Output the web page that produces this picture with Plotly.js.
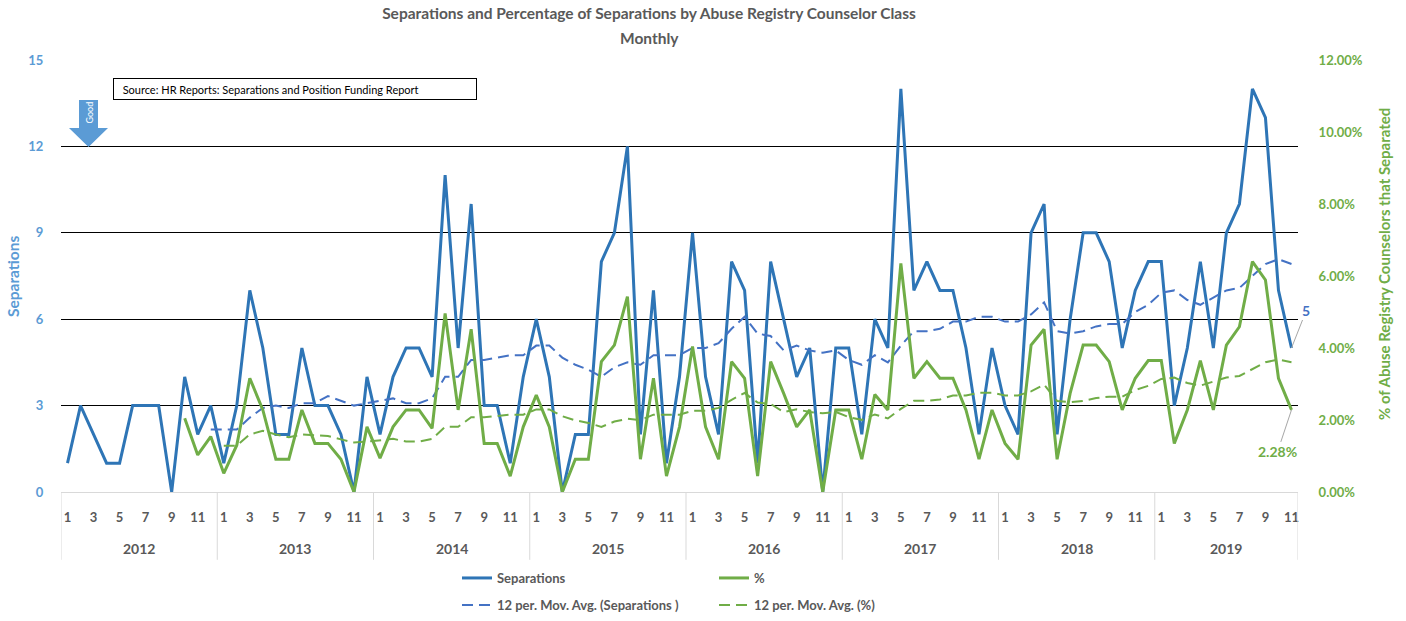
<!DOCTYPE html>
<html><head><meta charset="utf-8">
<script src="https://cdn.plot.ly/plotly-3.0.1.min.js"></script>
<style>html,body{margin:0;padding:0;background:#fff;}#chart{width:1406px;height:621px;}</style>
</head><body><div id="chart"></div>
<script>
// ---- data ----
const yearLabels = ['2012','2013','2014','2015','2016','2017','2018','2019'];
const monthNumbers = [1,2,3,4,5,6,7,8,9,10,11,12];
const separations = [
  1,3,2,1,1,3,3,3,0,4,2,3,
  1,3,7,5,2,2,5,3,3,2,0,4,
  2,4,5,5,4,11,5,10,3,3,1,4,
  6,4,0,2,2,8,9,12,2,7,1,4,
  9,4,2,8,7,1,8,6,4,5,0,5,
  5,2,6,5,14,7,8,7,7,5,2,5,
  3,2,9,10,2,6,9,9,8,5,7,8,
  8,3,5,8,5,9,10,14,13,7,5
];
const pctSeparated = [
  null,null,null,null,null,null,null,null,null,2.05,1.03,1.54,
  0.52,1.30,3.16,2.28,0.91,0.91,2.28,1.35,1.35,0.91,0,1.81,
  0.94,1.81,2.28,2.28,1.77,4.96,2.28,4.52,1.35,1.35,0.44,1.81,
  2.69,1.81,0,0.91,0.91,3.62,4.08,5.43,0.91,3.16,0.44,1.81,
  4.04,1.81,0.91,3.62,3.16,0.44,3.62,2.74,1.81,2.28,0,2.28,
  2.28,0.91,2.71,2.28,6.35,3.16,3.62,3.16,3.16,2.28,0.91,2.28,
  1.35,0.91,4.08,4.52,0.91,2.74,4.08,4.08,3.62,2.28,3.16,3.65,
  3.65,1.35,2.28,3.65,2.28,4.08,4.59,6.40,5.89,3.16,2.28
];
const maPeriod = 12;
const leftTicks = [0,3,6,9,12,15];
const rightTicks = [0,2,4,6,8,10,12];

// ---- derived ----
const xIdx = separations.map((_, i) => i);
const monthOf = i => monthNumbers[i % 12];
const tickvals = xIdx.filter(i => monthOf(i) % 2 === 1);
const ticktext = tickvals.map(i => String(monthOf(i)));
const rightText = rightTicks.map(v => v.toFixed(2) + '%');
function movingAvg(arr, period, firstIdx) {
  return arr.map((v, i) => {
    if (i < firstIdx) return null;
    const w = arr.slice(Math.max(0, i - period + 1), i + 1).filter(x => x !== null);
    return w.length ? w.reduce((a, b) => a + b, 0) / w.length : null;
  });
}
const sepMA = movingAvg(separations, maPeriod, maPeriod - 1);
const pctMA = movingAvg(pctSeparated, maPeriod, maPeriod);

const F = 'Lato, "Open Sans", sans-serif';
const GREY = '#595959';
const BLUE = '#2E75B6', LBLUE = '#5B9BD5', GREEN = '#70AD47', MABLUE = '#4472C4';

const traces = [
  {x: xIdx, y: separations, type: 'scatter', mode: 'lines', name: 'Separations',
   line: {color: BLUE, width: 3}, legend: 'legend'},
  {x: xIdx, y: pctSeparated, type: 'scatter', mode: 'lines', name: '%', yaxis: 'y2',
   line: {color: GREEN, width: 3}, legend: 'legend'},
  {x: xIdx, y: sepMA, type: 'scatter', mode: 'lines', name: '12 per. Mov. Avg. (Separations )',
   line: {color: MABLUE, width: 2, dash: '11px,6px'}, legend: 'legend2'},
  {x: xIdx, y: pctMA, type: 'scatter', mode: 'lines', name: '12 per. Mov. Avg. (%)', yaxis: 'y2',
   line: {color: GREEN, width: 2, dash: '11px,6px'}, legend: 'legend2'}
];

// year separators & labels
const shapes = [];
const annotations = [];
const sepBottom = -0.157;
yearLabels.forEach((yl, k) => {
  const start = k * 12;
  const end = Math.min(start + 11, separations.length - 1);
  shapes.push({type: 'line', xref: 'x', yref: 'paper', x0: start - 0.5, x1: start - 0.5, y0: 0, y1: sepBottom,
               line: {color: '#d9d9d9', width: 1}});
  annotations.push({xref: 'x', yref: 'paper', x: (start + end) / 2, y: -0.13, text: '<b>' + yl + '</b>',
                    showarrow: false, font: {family: F, size: 14, color: GREY}, yanchor: 'middle'});
});
shapes.push({type: 'line', xref: 'x', yref: 'paper', x0: separations.length - 0.5, x1: separations.length - 0.5,
             y0: 0, y1: sepBottom, line: {color: '#d9d9d9', width: 1}});

// "Good" arrow
const px = v => (v - 61) / 1237, py = v => (492 - v) / 432;
shapes.push({type: 'path', xref: 'paper', yref: 'paper', fillcolor: LBLUE, line: {width: 0},
  path: `M${px(79)},${py(100)} L${px(98)},${py(100)} L${px(98)},${py(128)} L${px(108)},${py(128)} L${px(88.5)},${py(147)} L${px(69)},${py(128)} L${px(79)},${py(128)} Z`});
annotations.push({xref: 'paper', yref: 'paper', x: px(88.5), y: py(113), text: 'Good', textangle: -90,
  showarrow: false, font: {family: F, size: 9, color: '#ffffff'}, xanchor: 'center', yanchor: 'middle'});

// source box
annotations.push({xref: 'paper', yref: 'paper', x: px(113), y: py(78), xanchor: 'left', yanchor: 'top',
  text: '  Source: HR Reports: Separations and Position Funding Report', showarrow: false, align: 'left',
  width: 356, height: 14, borderpad: 3, bordercolor: '#000', borderwidth: 1, bgcolor: '#fff',
  font: {family: F, size: 11, color: '#000'}});

// subtitle line
annotations.push({xref: 'paper', yref: 'paper', x: px(649), y: py(38), text: '<b>Monthly</b>', showarrow: false,
  font: {family: F, size: 15.5, color: GREY}, xanchor: 'center', yanchor: 'middle'});

// axis titles
annotations.push({xref: 'paper', yref: 'paper', x: px(13), y: py(276), text: '<b>Separations</b>', textangle: -90,
  showarrow: false, font: {family: F, size: 15.5, color: LBLUE}, xanchor: 'center', yanchor: 'middle'});
annotations.push({xref: 'paper', yref: 'paper', x: px(1384), y: py(264), text: '<b>% of Abuse Registry Counselors that Separated</b>',
  textangle: -90, showarrow: false, font: {family: F, size: 15, color: GREEN}, xanchor: 'center', yanchor: 'middle'});

// data labels for last points
const last = separations.length - 1;
annotations.push({xref: 'x', yref: 'y', x: last, y: separations[last], text: '<b>' + separations[last] + '</b>',
  showarrow: true, arrowhead: 0, arrowwidth: 1, arrowcolor: '#a6a6a6', ax: 15, ay: -38,
  font: {family: F, size: 14, color: MABLUE}});
annotations.push({xref: 'x', yref: 'y2', x: last, y: pctSeparated[last], text: '<b>' + pctSeparated[last].toFixed(2) + '%</b>',
  showarrow: true, arrowhead: 0, arrowwidth: 1, arrowcolor: '#a6a6a6', ax: -14, ay: 42,
  font: {family: F, size: 14, color: GREEN}});

const legendCommon = {orientation: 'h', x: px(457), xanchor: 'left', yanchor: 'middle', yref: 'container',
  entrywidth: 212, entrywidthmode: 'pixels', bgcolor: 'rgba(0,0,0,0)',
  font: {family: F, size: 13, color: GREY, weight: 'bold'}};

const layout = {
  width: 1406, height: 621,
  margin: {l: 61, r: 108, t: 60, b: 129},
  paper_bgcolor: '#fff', plot_bgcolor: '#fff',
  title: {text: '<b>Separations and Percentage of Separations by Abuse Registry Counselor Class</b>',
          font: {family: F, size: 15.5, color: GREY}, x: 649 / 1406, xanchor: 'center',
          y: 1 - 14 / 621, yanchor: 'middle'},
  xaxis: {range: [-0.5, separations.length - 0.5], tickmode: 'array', tickvals: tickvals, ticktext: ticktext,
          showgrid: false, zeroline: false, showline: false, ticks: 'outside', ticklen: 13,
          tickcolor: 'rgba(0,0,0,0)', tickfont: {family: F, size: 13, color: GREY, weight: 'bold'}},
  yaxis: {range: [0, 15], tickmode: 'array', tickvals: leftTicks, showgrid: true, gridcolor: '#000', gridwidth: 1,
          zeroline: true, zerolinecolor: '#d9d9d9', zerolinewidth: 1, ticks: 'outside', ticklen: 14,
          tickcolor: 'rgba(0,0,0,0)', tickfont: {family: F, size: 13, color: LBLUE, weight: 'bold'}},
  yaxis2: {range: [0, 12], overlaying: 'y', side: 'right', tickmode: 'array', tickvals: rightTicks,
           ticktext: rightText, showgrid: false, zeroline: false, ticks: 'outside', ticklen: 17,
           tickcolor: 'rgba(0,0,0,0)', tickfont: {family: F, size: 13, color: GREEN, weight: 'bold'}},
  legend: Object.assign({}, legendCommon, {y: 1 - 578 / 621}),
  legend2: Object.assign({}, legendCommon, {y: 1 - 605 / 621}),
  shapes: shapes,
  annotations: annotations,
  hovermode: false
};

Plotly.newPlot('chart', traces, layout, {displayModeBar: false, staticPlot: true});
</script>
</body></html>
